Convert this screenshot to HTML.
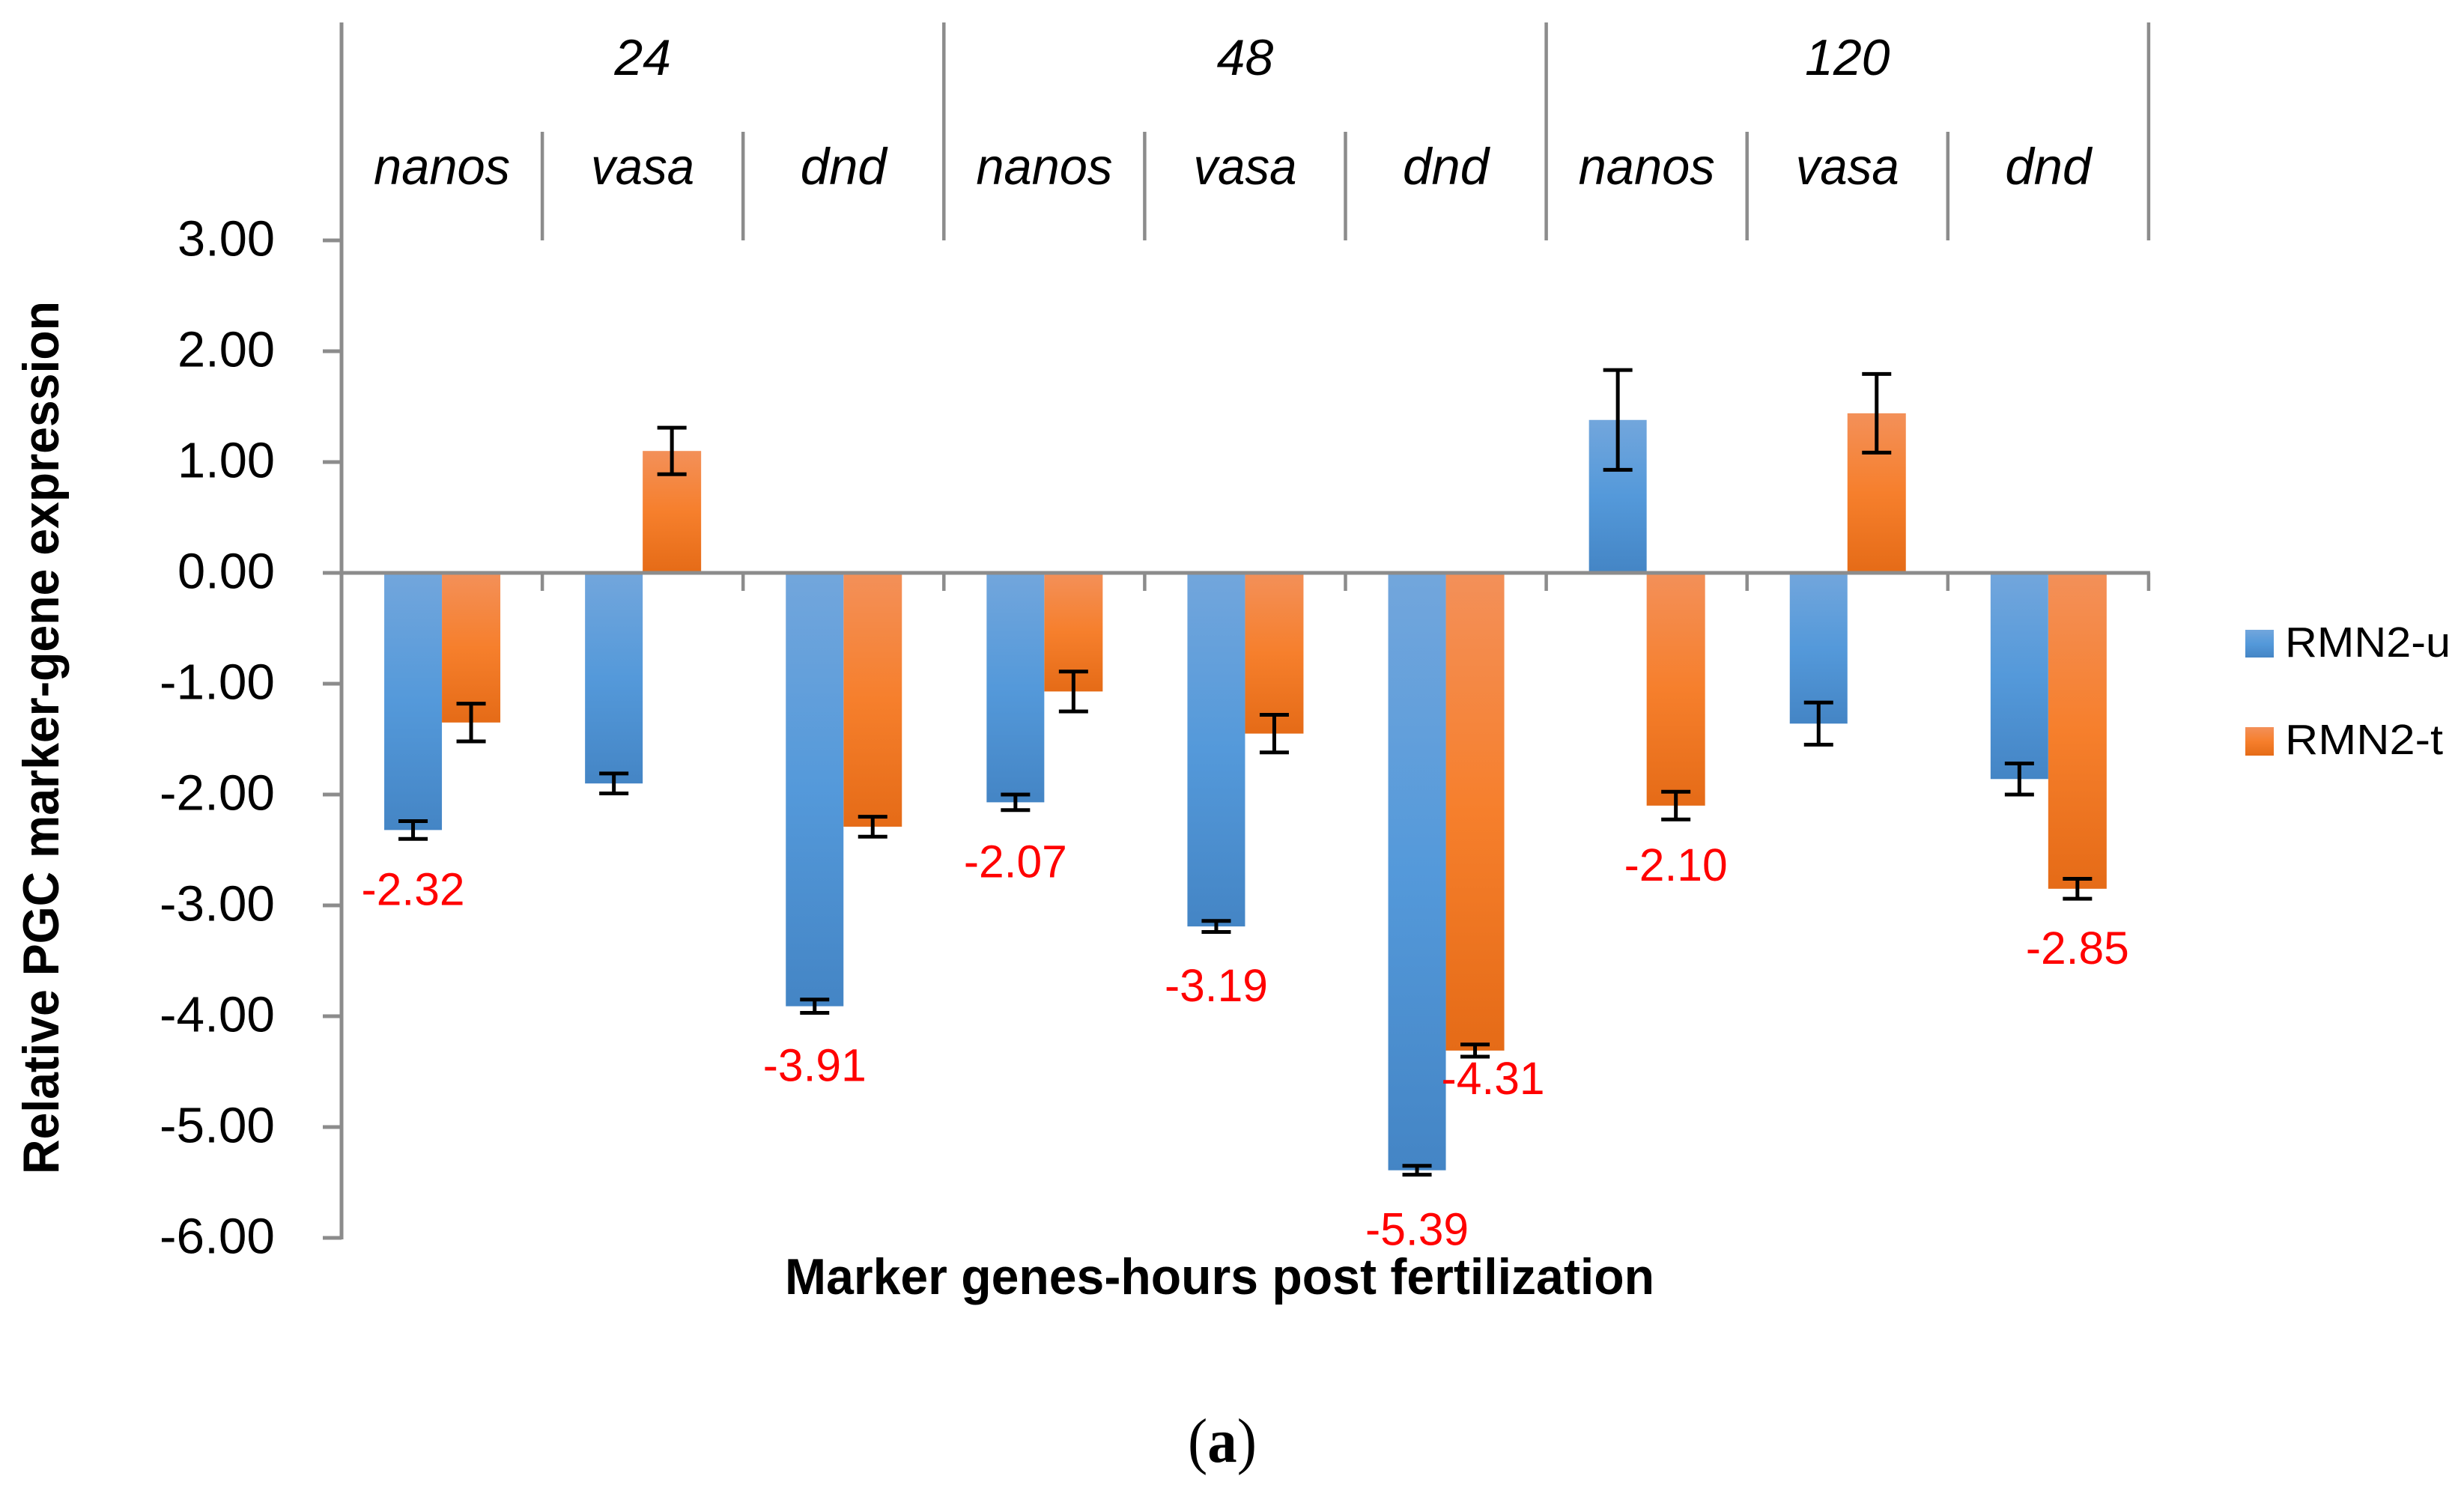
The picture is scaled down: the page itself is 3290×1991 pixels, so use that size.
<!DOCTYPE html>
<html lang="en">
<head>
<meta charset="utf-8">
<title>Relative PGC marker-gene expression</title>
<style>
html,body{margin:0;padding:0;background:#fff;}
svg{display:block;}
text{font-family:"Liberation Sans",sans-serif;}
</style>
</head>
<body>
<svg id="chart" xmlns="http://www.w3.org/2000/svg" width="3290" height="1991" viewBox="0 0 3290 1991">
  <defs>
    <linearGradient id="blue-fill" x1="0" y1="0" x2="0" y2="1">
      <stop offset="0" stop-color="#72a6dc"/>
      <stop offset="0.5" stop-color="#5499da"/>
      <stop offset="1" stop-color="#4485c5"/>
    </linearGradient>
    <linearGradient id="orange-fill" x1="0" y1="0" x2="0" y2="1">
      <stop offset="0" stop-color="#f39059"/>
      <stop offset="0.5" stop-color="#f67f2c"/>
      <stop offset="1" stop-color="#e56b17"/>
    </linearGradient>
  </defs>
  <rect x="0" y="0" width="3290" height="1991" fill="#ffffff"/>
  <g id="bars"></g>
  <g id="axes"></g>
  <g id="errors"></g>
  <g id="labels"></g>
  <g id="values"></g>

  <text x="1048" y="1728" font-size="68" font-weight="700" fill="#000" textLength="1161" lengthAdjust="spacingAndGlyphs">Marker genes-hours post fertilization</text>
  <text transform="translate(78,1568) rotate(-90)" x="0" y="0" font-size="68" font-weight="700" fill="#000" textLength="1166" lengthAdjust="spacingAndGlyphs">Relative PGC marker-gene expression</text>

  <g>
    <g>
      <rect x="2998" y="841" width="38" height="37" fill="url(#blue-fill)"/>
      <text x="3051" y="877" font-size="57" fill="#000" textLength="221" lengthAdjust="spacingAndGlyphs">RMN2-u</text>
    </g>
    <g>
      <rect x="2998" y="971" width="38" height="38" fill="url(#orange-fill)"/>
      <text x="3051" y="1007" font-size="57" fill="#000" textLength="211" lengthAdjust="spacingAndGlyphs">RMN2-t</text>
    </g>
  </g>

  <text x="1586" y="1952" font-size="84" fill="#000" textLength="92" lengthAdjust="spacingAndGlyphs" style="font-family:'Liberation Serif',serif">(<tspan font-weight="700">a</tspan>)</text>
</svg>

<script>
const genes = ["nanos", "vasa", "dnd", "nanos", "vasa", "dnd", "nanos", "vasa", "dnd"];
const hours = ["24", "48", "120"];
const yTicks = [3, 2, 1, 0, -1, -2, -3, -4, -5, -6];
const blueValues = [-2.32, -1.90, -3.91, -2.07, -3.19, -5.39, 1.38, -1.36, -1.86];
const orangeValues = [-1.35, 1.10, -2.29, -1.07, -1.45, -4.31, -2.10, 1.44, -2.85];
const blueErrors = [0.08, 0.09, 0.06, 0.07, 0.05, 0.04, 0.45, 0.19, 0.14];
const orangeErrors = [0.17, 0.21, 0.09, 0.18, 0.17, 0.055, 0.125, 0.355, 0.09];
const blueLabelled = [true, false, true, true, true, true, false, false, false];
const orangeLabelled = [false, false, false, false, false, true, true, false, true];

const SVG_NS = "http://www.w3.org/2000/svg";
const AXIS_COLOR = "#8c8c8c";
const plotLeft = 456;
const catWidth = 268.1;
const zeroY = 765;
const unitY = 148;
const geneTextWidth = { nanos: 182, vasa: 138, dnd: 115 };

function xScale(i) { return plotLeft + i * catWidth; }
function yScale(v) { return zeroY - unitY * v; }

function make(tag, parentId, attrs, content) {
  const el = document.createElementNS(SVG_NS, tag);
  for (const k in attrs) el.setAttribute(k, attrs[k]);
  if (content !== undefined) el.textContent = content;
  document.getElementById(parentId).appendChild(el);
  return el;
}

/* bars */
function drawBars(values, seriesName, fill, left, width) {
  values.forEach(function (v, i) {
    const c = xScale(i + 0.5);
    const top = Math.min(yScale(v), zeroY);
    const el = make("rect", "bars", {
      x: c + left, y: top, width: width, height: Math.abs(yScale(v) - zeroY), fill: fill
    });
    
    
  });
}
drawBars(orangeValues, "rmn2-t", "url(#orange-fill)", 0, 78);
drawBars(blueValues, "rmn2-u", "url(#blue-fill)", -77, 77);

/* axes */
const yAxisLine = make("line", "axes", {
  x1: plotLeft, x2: plotLeft, y1: 30, y2: yScale(yTicks[yTicks.length - 1]) + 2, stroke: AXIS_COLOR, "stroke-width": 5
});



const zeroLine = make("line", "axes", {
  x1: 431, x2: xScale(genes.length) + 2, y1: zeroY, y2: zeroY, stroke: AXIS_COLOR, "stroke-width": 5
});



yTicks.forEach(function (t) {
  const tick = make("line", "axes", {
    x1: 431, x2: plotLeft, y1: yScale(t), y2: yScale(t), stroke: AXIS_COLOR, "stroke-width": 5
  });
  
  

  const txt = t.toFixed(2);
  const label = make("text", "labels", {
    x: 367, y: yScale(t) + 20.5, "font-size": 67, "text-anchor": "end", fill: "#000",
    textLength: t < 0 ? 154 : 130, lengthAdjust: "spacingAndGlyphs"
  }, txt);
  
  
});

for (let i = 1; i <= genes.length; i++) {
  const isGroupEdge = i % 3 === 0;
  const divider = make("line", "axes", {
    x1: xScale(i), x2: xScale(i), y1: isGroupEdge ? 30 : 176, y2: 321, stroke: AXIS_COLOR, "stroke-width": 4.5
  });
  
  

  const catTick = make("line", "axes", {
    x1: xScale(i), x2: xScale(i), y1: zeroY, y2: 789, stroke: AXIS_COLOR, "stroke-width": 4.5
  });
  
  
}

/* category labels */
genes.forEach(function (g, i) {
  const label = make("text", "labels", {
    x: xScale(i + 0.5), y: 246, "font-size": 69, "font-style": "italic", "text-anchor": "middle", fill: "#000",
    textLength: geneTextWidth[g], lengthAdjust: "spacingAndGlyphs"
  }, g);
  
  
});
hours.forEach(function (h, i) {
  const label = make("text", "labels", {
    x: xScale(i * 3 + 1.5), y: 100, "font-size": 68, "font-style": "italic", "text-anchor": "middle", fill: "#000"
  }, h);
  
  
});

/* error bars */
function drawErrors(values, errors, seriesName, offset) {
  values.forEach(function (v, i) {
    const c = xScale(i + 0.5) + offset;
    const hi = yScale(v + errors[i]);
    const lo = yScale(v - errors[i]);
    const d = "M" + (c - 19.5) + " " + hi + "H" + (c + 19.5) +
              "M" + c + " " + hi + "V" + lo +
              "M" + (c - 19.5) + " " + lo + "H" + (c + 19.5);
    const el = make("path", "errors", { d: d, stroke: "#000", "stroke-width": 5, fill: "none" });
    
    
  });
}
drawErrors(blueValues, blueErrors, "rmn2-u", -38.5);
drawErrors(orangeValues, orangeErrors, "rmn2-t", 39);

/* red value labels */
function drawValueLabels(values, flags, seriesName, offset) {
  values.forEach(function (v, i) {
    if (!flags[i]) return;
    // the -4.31 label sits closer to its bar and shifted right, as in the source figure
    const tucked = seriesName === "rmn2-t" && v < -4;
    const el = make("text", "values", {
      x: xScale(i + 0.5) + offset + (tucked ? 24 : 0),
      y: yScale(v) + (tucked ? 58 : 100),
      "font-size": 61, "text-anchor": "middle", fill: "#ff0000",
      textLength: 138, lengthAdjust: "spacingAndGlyphs"
    }, v.toFixed(2));
    
    
  });
}
drawValueLabels(blueValues, blueLabelled, "rmn2-u", -38.5);
drawValueLabels(orangeValues, orangeLabelled, "rmn2-t", 39);
</script>
</body>
</html>
